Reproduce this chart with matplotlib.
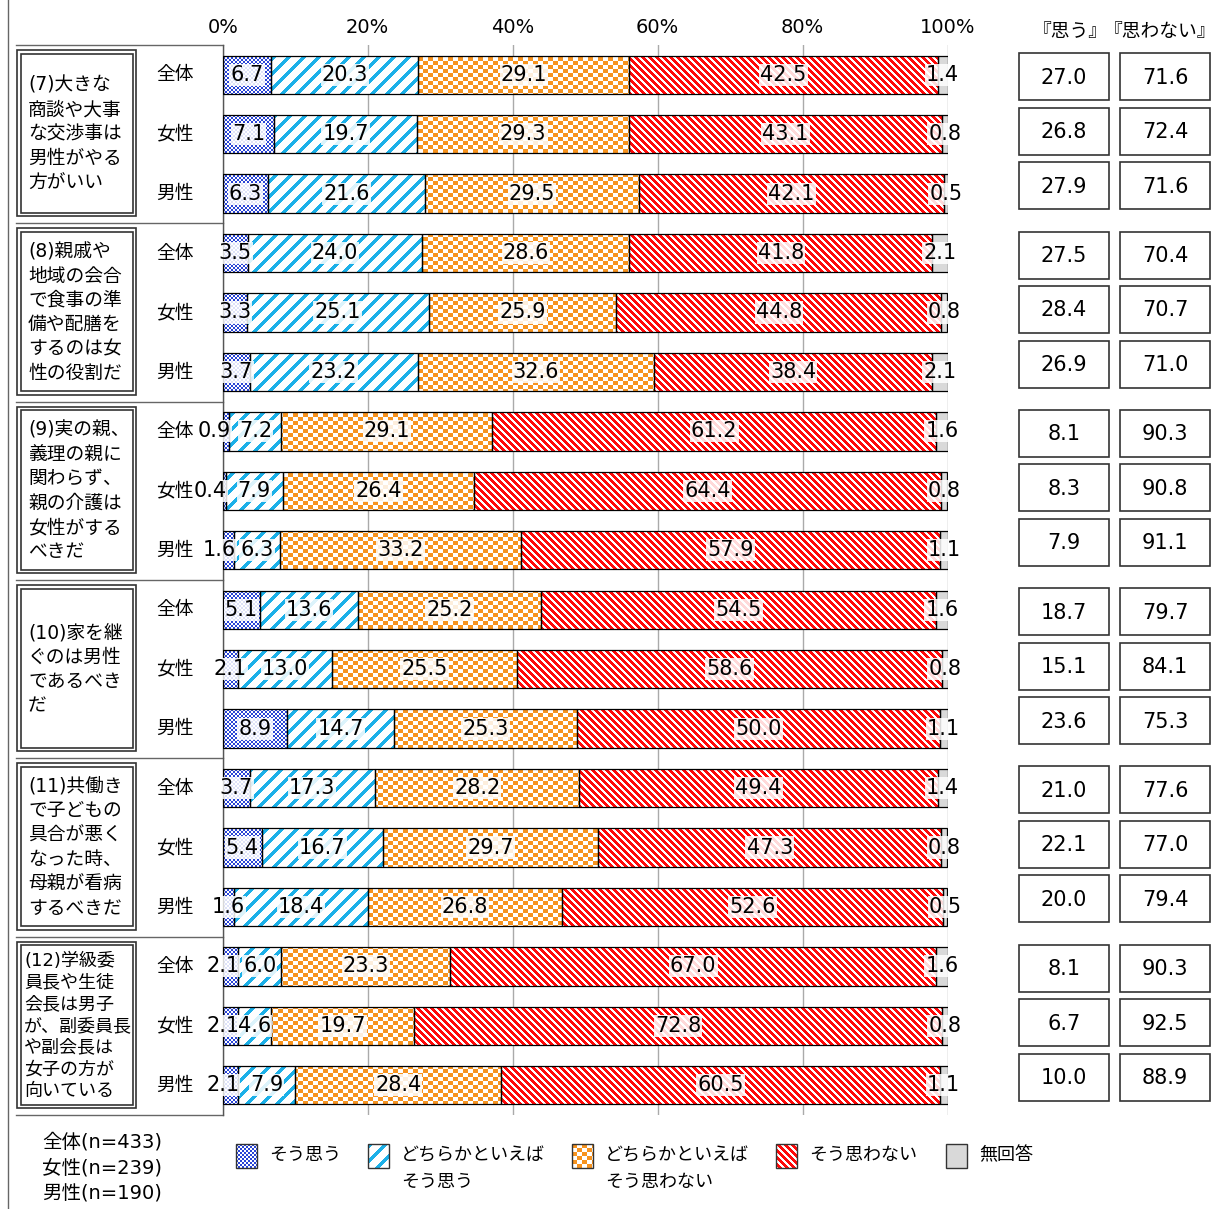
import numpy as np
import matplotlib
matplotlib.use("Agg")
import matplotlib.pyplot as plt
from matplotlib.colors import to_rgb
from matplotlib.patches import Rectangle
from matplotlib.path import Path

plt.rcParams["font.family"] = ["DejaVu Sans", "Noto Sans CJK JP"]

# ---- data -------------------------------------------------------------
questions = [
    "(7)大きな\n商談や大事\nな交渉事は\n男性がやる\n方がいい",
    "(8)親戚や\n地域の会合\nで食事の準\n備や配膳を\nするのは女\n性の役割だ",
    "(9)実の親、\n義理の親に\n関わらず、\n親の介護は\n女性がする\nべきだ",
    "(10)家を継\nぐのは男性\nであるべき\nだ",
    "(11)共働き\nで子どもの\n具合が悪く\nなった時、\n母親が看病\nするべきだ",
    "(12)学級委\n員長や生徒\n会長は男子\nが、副委員長\nや副会長は\n女子の方が\n向いている",
]
row_names = ["全体", "女性", "男性"]

sou_omou = [6.7, 7.1, 6.3, 3.5, 3.3, 3.7, 0.9, 0.4, 1.6,
            5.1, 2.1, 8.9, 3.7, 5.4, 1.6, 2.1, 2.1, 2.1]
dochira_omou = [20.3, 19.7, 21.6, 24.0, 25.1, 23.2, 7.2, 7.9, 6.3,
                13.6, 13.0, 14.7, 17.3, 16.7, 18.4, 6.0, 4.6, 7.9]
dochira_omowanai = [29.1, 29.3, 29.5, 28.6, 25.9, 32.6, 29.1, 26.4, 33.2,
                    25.2, 25.5, 25.3, 28.2, 29.7, 26.8, 23.3, 19.7, 28.4]
sou_omowanai = [42.5, 43.1, 42.1, 41.8, 44.8, 38.4, 61.2, 64.4, 57.9,
                54.5, 58.6, 50.0, 49.4, 47.3, 52.6, 67.0, 72.8, 60.5]
mukaito = [1.4, 0.8, 0.5, 2.1, 0.8, 2.1, 1.6, 0.8, 1.1,
           1.6, 0.8, 1.1, 1.4, 0.8, 0.5, 1.6, 0.8, 1.1]

omou_total = [27.0, 26.8, 27.9, 27.5, 28.4, 26.9, 8.1, 8.3, 7.9,
              18.7, 15.1, 23.6, 21.0, 22.1, 20.0, 8.1, 6.7, 10.0]
omowanai_total = [71.6, 72.4, 71.6, 70.4, 70.7, 71.0, 90.3, 90.8, 91.1,
                  79.7, 84.1, 75.3, 77.6, 77.0, 79.4, 90.3, 92.5, 88.9]

sample_sizes = ["全体(n=433)", "女性(n=239)", "男性(n=190)"]
legend_labels = ["そう思う", "どちらかといえば\nそう思う", "どちらかといえば\nそう思わない",
                 "そう思わない", "無回答"]
xticks = [0, 20, 40, 60, 80, 100]

series = [sou_omou, dochira_omou, dochira_omowanai, sou_omowanai, mukaito]
n_rows = len(sou_omou)

# ---- layout (pixels) --------------------------------------------------
FIG_W, FIG_H = 1219, 1209
AX_L, AX_R, AX_T, AX_B = 222.7, 947.7, 45.0, 1115.0
ROW_H = (AX_B - AX_T) / n_rows
GROUP_H = ROW_H * 3

BLUE = to_rgb("#2a45d6")
LBLUE = to_rgb("#1cb0e8")
ORANGE = to_rgb("#f7931e")
RED = to_rgb("#ff0a0a")
GRAY = to_rgb("#d9d9d9")


def texture(kind, h, w):
    yy, xx = np.mgrid[0:h, 0:w]
    img = np.ones((h, w, 3))
    if kind == 0:
        mask, col = (xx // 2 + yy // 2) % 2 == 0, BLUE
    elif kind == 1:
        mask, col = (xx + yy) % 15 < 5, LBLUE
    elif kind == 2:
        mask, col = (xx // 5 + yy // 4) % 2 == 0, ORANGE
    elif kind == 3:
        mask, col = (xx - yy) % 7 < 4, RED
    else:
        mask, col = np.ones((h, w), bool), GRAY
    img[mask] = col
    return img


fig = plt.figure(figsize=(FIG_W / 100, FIG_H / 100), dpi=100)
fig.patch.set_facecolor("white")

# overlay in pixel coordinates for the table parts
ov = fig.add_axes([0, 0, 1, 1], zorder=0)
ov.set_xlim(0, FIG_W)
ov.set_ylim(FIG_H, 0)
ov.axis("off")

ax = fig.add_axes([AX_L / FIG_W, 1 - AX_B / FIG_H,
                   (AX_R - AX_L) / FIG_W, (AX_B - AX_T) / FIG_H], zorder=1)
ax.patch.set_alpha(0)
ax.set_xlim(0, 100)
ax.set_ylim(n_rows, 0)

tex_w = int(round(ax.bbox.width))
tex_h = int(round(ax.bbox.height))

ypos = np.arange(n_rows) + 0.5
left = np.zeros(n_rows)
for k, vals in enumerate(series):
    vals = np.asarray(vals)
    bars = ax.barh(ypos, vals, left=left, height=0.645, color="none",
                   edgecolor="black", linewidth=0.9, zorder=3)
    paths = [p.get_path().transformed(p.get_patch_transform()) for p in bars]
    clip = Path.make_compound_path(*paths)
    im = ax.imshow(texture(k, tex_h, tex_w), extent=(0, 100, n_rows, 0),
                   interpolation="nearest", aspect="auto", zorder=2)
    im.set_clip_path(clip, ax.transData)

    for i, v in enumerate(vals):
        x, ha = left[i] + v / 2, "center"
        if k == 0 and v < 2.5 and series[1][i] < 10:
            x, ha = left[i] + v + 0.2, "right"
        ax.text(x, ypos[i], f"{v:.1f}", ha=ha, va="center", fontsize=15,
                zorder=4, bbox=dict(boxstyle="square,pad=0.05", fc="white",
                                    ec="none", alpha=0.85))
    left += vals

ax.set_xticks(xticks)
ax.set_xticklabels([f"{t}%" for t in xticks])
ax.xaxis.tick_top()
ax.tick_params(axis="x", length=0, pad=6, labelsize=14)
ax.set_yticks([])
ax.grid(axis="x", color="#aaaaaa", linewidth=1, zorder=1)
ax.set_axisbelow(True)
for side in ["top", "right", "bottom"]:
    ax.spines[side].set_visible(False)
ax.spines["left"].set_color("#555555")
ax.spines["left"].set_linewidth(1)

# page border on the left
ov.plot([7.5, 7.5], [0, FIG_H], color="#666666", lw=1)

# left table: group separators, question boxes, row names
for g in range(len(questions) + 1):
    y = AX_T + g * GROUP_H
    ov.plot([16, AX_L], [y, y], color="#666666", lw=1)

for g, q in enumerate(questions):
    top = AX_T + g * GROUP_H + 5
    bot = AX_T + (g + 1) * GROUP_H - 7
    ov.add_patch(Rectangle((17, top), 119, bot - top, fill=False,
                           ec="#333333", lw=1.2))
    ov.add_patch(Rectangle((20.5, top + 3.5), 112, bot - top - 7, fill=False,
                           ec="#333333", lw=1.2))
    long_text = q.count("\n") > 5
    ov.text(24 if long_text else 28, (top + bot) / 2 + 1, q, ha="left",
            va="center", fontsize=13 if long_text else 13.5,
            linespacing=1.26 if long_text else 1.36)
    for r, name in enumerate(row_names):
        yc = AX_T + (g * 3 + r + 0.5) * ROW_H
        ov.text(175, yc, name, ha="center", va="center", fontsize=13.5)

    # totals on the right
    gc = AX_T + (g + 0.5) * GROUP_H - 3
    for r in range(3):
        i = g * 3 + r
        yc = gc + (r - 1) * 54.5
        for x0, w, v in [(1019, 90, omou_total[i]), (1120, 90, omowanai_total[i])]:
            ov.add_patch(Rectangle((x0, yc - 23.5), w, 47, fill=False,
                                   ec="#333333", lw=1.2))
            ov.text(x0 + w / 2, yc + 1, f"{v:.1f}", ha="center", va="center",
                    fontsize=15)

ov.text(1070, 32, "『思う』", ha="center", va="center", fontsize=13.5)
ov.text(1216, 32, "『思わない』", ha="right", va="center", fontsize=13.5)

# legend
for j, s in enumerate(sample_sizes):
    ov.text(42, 1142 + j * 26, s, ha="left", va="center", fontsize=14)

legend_x = [236, 368, 572, 776, 946]
for k, (x0, lab) in enumerate(zip(legend_x, legend_labels)):
    pw, ph, py = 21, 24, 1144
    ov.imshow(texture(k, ph, pw), extent=(x0, x0 + pw, py + ph, py),
              interpolation="nearest", aspect="auto", zorder=2)
    ov.add_patch(Rectangle((x0, py), pw, ph, fill=False, ec="#333333",
                           lw=1, zorder=3))
    ov.text(x0 + pw + 12, py + 2, lab, ha="left", va="top", fontsize=13,
            linespacing=1.65)

ov.set_xlim(0, FIG_W)
ov.set_ylim(FIG_H, 0)

fig.savefig("out.png", dpi=100)
